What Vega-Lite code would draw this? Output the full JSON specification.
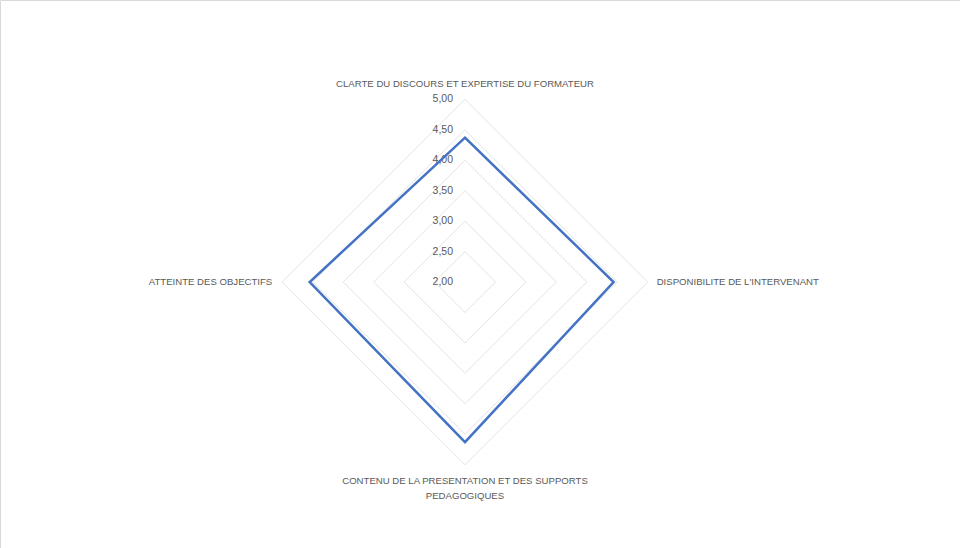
{
  "$schema": "https://vega.github.io/schema/vega-lite/v6.json",
  "width": 960,
  "height": 548,
  "padding": 0,
  "autosize": {"type": "none"},
  "background": "white",
  "config": {
    "view": {"stroke": "#d9d9d9", "strokeWidth": 1},
    "text": {"font": "Liberation Sans", "fontSize": 9.6, "fill": "#595959"}
  },
  "datasets": {
    "scores": [
      {"critere": "CLARTE DU DISCOURS ET EXPERTISE DU FORMATEUR", "i": 0, "note": 4.37},
      {"critere": "DISPONIBILITE DE L'INTERVENANT", "i": 1, "note": 4.44},
      {"critere": "CONTENU DE LA PRESENTATION ET DES SUPPORTS PEDAGOGIQUES", "i": 2, "note": 4.63},
      {"critere": "ATTEINTE DES OBJECTIFS", "i": 3, "note": 4.55}
    ],
    "grid": [
      {"level": 2.5, "i": 0}, {"level": 2.5, "i": 1}, {"level": 2.5, "i": 2}, {"level": 2.5, "i": 3},
      {"level": 3.0, "i": 0}, {"level": 3.0, "i": 1}, {"level": 3.0, "i": 2}, {"level": 3.0, "i": 3},
      {"level": 3.5, "i": 0}, {"level": 3.5, "i": 1}, {"level": 3.5, "i": 2}, {"level": 3.5, "i": 3},
      {"level": 4.0, "i": 0}, {"level": 4.0, "i": 1}, {"level": 4.0, "i": 2}, {"level": 4.0, "i": 3},
      {"level": 4.5, "i": 0}, {"level": 4.5, "i": 1}, {"level": 4.5, "i": 2}, {"level": 4.5, "i": 3},
      {"level": 5.0, "i": 0}, {"level": 5.0, "i": 1}, {"level": 5.0, "i": 2}, {"level": 5.0, "i": 3}
    ],
    "ticks": [
      {"level": 2.0}, {"level": 2.5}, {"level": 3.0}, {"level": 3.5}, {"level": 4.0}, {"level": 4.5}, {"level": 5.0}
    ]
  },
  "layer": [
    {
      "data": {"name": "grid"},
      "transform": [
        {"calculate": "(datum.level - 2) * sin(datum.i * PI / 2)", "as": "x"},
        {"calculate": "(datum.level - 2) * cos(datum.i * PI / 2)", "as": "y"}
      ],
      "mark": {"type": "line", "interpolate": "linear-closed", "stroke": "#e3e3e3", "strokeWidth": 1},
      "encoding": {
        "x": {"field": "x", "type": "quantitative", "scale": {"domain": [-7.635, 8.128], "nice": false, "zero": false}, "axis": null},
        "y": {"field": "y", "type": "quantitative", "scale": {"domain": [-4.368, 4.631], "nice": false, "zero": false}, "axis": null},
        "detail": {"field": "level", "type": "nominal"},
        "order": {"field": "i", "type": "quantitative"}
      }
    },
    {
      "data": {"name": "ticks"},
      "transform": [
        {"calculate": "replace(format(datum.level, '.2f'), '.', ',')", "as": "label"},
        {"calculate": "0", "as": "x"},
        {"calculate": "datum.level - 2", "as": "y"}
      ],
      "mark": {"type": "text", "align": "right", "baseline": "middle", "dx": -12, "fontSize": 10.5},
      "encoding": {
        "x": {"field": "x", "type": "quantitative"},
        "y": {"field": "y", "type": "quantitative"},
        "text": {"field": "label"}
      }
    },
    {
      "data": {"name": "scores"},
      "transform": [
        {"calculate": "(datum.note - 2) * sin(datum.i * PI / 2)", "as": "x"},
        {"calculate": "(datum.note - 2) * cos(datum.i * PI / 2)", "as": "y"}
      ],
      "mark": {"type": "line", "interpolate": "linear-closed", "stroke": "#4472C4", "strokeWidth": 2.5},
      "encoding": {
        "x": {"field": "x", "type": "quantitative"},
        "y": {"field": "y", "type": "quantitative"},
        "order": {"field": "i", "type": "quantitative"}
      }
    },
    {
      "data": {"name": "scores"},
      "transform": [
        {"filter": "datum.i == 0"},
        {"calculate": "0", "as": "x"},
        {"calculate": "3", "as": "y"}
      ],
      "mark": {"type": "text", "align": "center", "baseline": "middle", "dy": -15},
      "encoding": {
        "x": {"field": "x", "type": "quantitative"},
        "y": {"field": "y", "type": "quantitative"},
        "text": {"field": "critere"}
      }
    },
    {
      "data": {"name": "scores"},
      "transform": [
        {"filter": "datum.i == 1"},
        {"calculate": "3", "as": "x"},
        {"calculate": "0", "as": "y"}
      ],
      "mark": {"type": "text", "align": "left", "baseline": "middle", "dx": 9},
      "encoding": {
        "x": {"field": "x", "type": "quantitative"},
        "y": {"field": "y", "type": "quantitative"},
        "text": {"field": "critere"}
      }
    },
    {
      "data": {"name": "scores"},
      "transform": [
        {"filter": "datum.i == 3"},
        {"calculate": "-3", "as": "x"},
        {"calculate": "0", "as": "y"}
      ],
      "mark": {"type": "text", "align": "right", "baseline": "middle", "dx": -10},
      "encoding": {
        "x": {"field": "x", "type": "quantitative"},
        "y": {"field": "y", "type": "quantitative"},
        "text": {"field": "critere"}
      }
    },
    {
      "data": {"name": "scores"},
      "transform": [
        {"filter": "datum.i == 2"},
        {"calculate": "replace(datum.critere, 'SUPPORTS ', 'SUPPORTS|')", "as": "lbl"},
        {"calculate": "0", "as": "x"},
        {"calculate": "-3", "as": "y"}
      ],
      "mark": {"type": "text", "align": "center", "baseline": "top", "dy": 11, "lineBreak": "|", "lineHeight": 15},
      "encoding": {
        "x": {"field": "x", "type": "quantitative"},
        "y": {"field": "y", "type": "quantitative"},
        "text": {"field": "lbl"}
      }
    }
  ]
}
